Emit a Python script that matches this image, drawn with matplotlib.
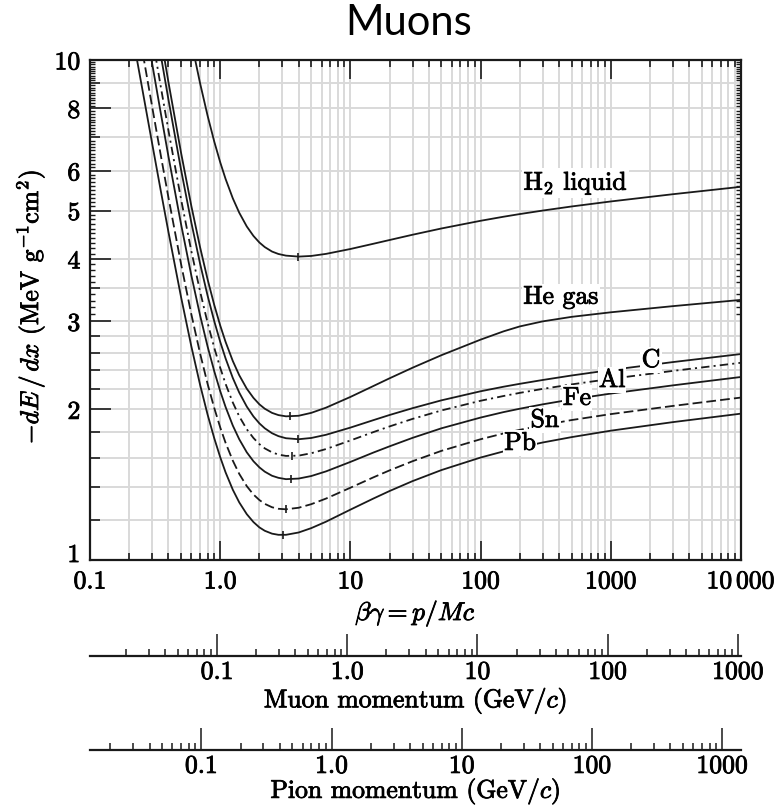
import numpy as np
import matplotlib.pyplot as plt
import matplotlib.patheffects as pe
from matplotlib.text import Text
from matplotlib.ticker import FixedLocator, FixedFormatter, NullFormatter

plt.rcParams['font.family'] = 'cmr10'
plt.rcParams['mathtext.fontset'] = 'cm'
plt.rcParams['axes.unicode_minus'] = False
plt.rcParams['lines.scale_dashes'] = False

nan = np.nan

# beta*gamma sample points and mean stopping power (MeV g^-1 cm^2) per material
beta_gamma = [0.2, 0.25, 0.3, 0.35, 0.4, 0.5, 0.6, 0.7, 0.8, 0.9, 1.0, 1.1, 1.25, 1.4, 1.6, 1.8,
              2.0, 2.2, 2.5, 2.8, 3.2, 4.0, 5.0, 6.5, 10, 15, 20, 30, 50, 100, 150, 200, 300,
              500, 1000, 3000, 10000]

h2_liquid = [nan, nan, nan, nan, nan, 13.96, 10.89, 8.993, 7.739, 6.869, 6.245, 5.782, 5.288, 4.950,
             4.646, 4.448, 4.315, 4.225, 4.139, 4.093, 4.062, 4.044, 4.056, 4.095, 4.188, 4.290,
             4.365, 4.472, 4.603, 4.769, 4.859, 4.919, 4.999, 5.094, 5.213, 5.390, 5.577]
he_gas = [nan, nan, 14.14, 11.09, 9.043, 6.531, 5.108, 4.226, 3.642, 3.237, 2.945, 2.730, 2.500, 2.342,
          2.201, 2.110, 2.048, 2.007, 1.969, 1.949, 1.938, 1.943, 1.969, 2.017, 2.119, 2.228,
          2.309, 2.424, 2.568, 2.759, 2.866, 2.932, 3.001, 3.064, 3.129, 3.219, 3.313]
carbon = [nan, nan, 12.98, 10.21, 8.347, 6.039, 4.732, 3.918, 3.379, 3.004, 2.732, 2.530, 2.312, 2.162,
          2.027, 1.937, 1.876, 1.834, 1.793, 1.769, 1.752, 1.744, 1.754, 1.780, 1.840, 1.904,
          1.950, 2.012, 2.086, 2.175, 2.221, 2.251, 2.291, 2.339, 2.399, 2.488, 2.582]
aluminum = [nan, 14.81, 11.16, 8.828, 7.240, 5.272, 4.149, 3.448, 2.982, 2.658, 2.424, 2.250, 2.065, 1.938,
            1.826, 1.754, 1.705, 1.672, 1.642, 1.625, 1.615, 1.617, 1.635, 1.667, 1.734, 1.802,
            1.850, 1.915, 1.991, 2.082, 2.128, 2.159, 2.199, 2.245, 2.303, 2.389, 2.480]
iron = [nan, 12.99, 9.845, 7.818, 6.422, 4.700, 3.709, 3.088, 2.674, 2.386, 2.177, 2.023, 1.857, 1.744,
        1.642, 1.576, 1.532, 1.502, 1.474, 1.460, 1.451, 1.455, 1.472, 1.504, 1.571, 1.640,
        1.688, 1.755, 1.834, 1.927, 1.976, 2.007, 2.048, 2.095, 2.152, 2.235, 2.323]
tin = [14.75, 10.58, 8.070, 6.439, 5.315, 3.913, 3.102, 2.592, 2.251, 2.014, 1.842, 1.715, 1.580, 1.487,
       1.405, 1.352, 1.318, 1.295, 1.275, 1.266, 1.263, 1.272, 1.293, 1.327, 1.395, 1.463,
       1.511, 1.576, 1.653, 1.744, 1.791, 1.821, 1.860, 1.905, 1.958, 2.033, 2.113]
lead = [12.20, 8.859, 6.813, 5.468, 4.536, 3.360, 2.676, 2.243, 1.954, 1.752, 1.606, 1.497, 1.382, 1.304,
        1.235, 1.191, 1.162, 1.144, 1.129, 1.123, 1.123, 1.135, 1.158, 1.193, 1.261, 1.327,
        1.374, 1.438, 1.513, 1.603, 1.649, 1.679, 1.718, 1.761, 1.814, 1.887, 1.962]

names = ['H$_2$ liquid', 'He gas', 'C', 'Al', 'Fe', 'Sn', 'Pb']
series = [h2_liquid, he_gas, carbon, aluminum, iron, tin, lead]
styles = ['-', '-', '-', (0, (6, 3, 1.5, 3)), '-', (0, (7, 3)), '-']

# minimum ionization points
min_bg = [3.98, 3.44, 3.98, 3.54, 3.47, 3.18, 3.02]
min_val = [4.034, 1.937, 1.745, 1.615, 1.451, 1.263, 1.122]

# label anchor points
label_bg = [538, 413, 2037, 1022, 550, 312, 201]
label_val = [5.68, 3.36, 2.51, 2.29, 2.109, 1.905, 1.714]

x_major = [0.1, 1, 10, 100, 1000, 10000]
x_major_labels = ['0.1', '1.0', '10', '100', '1000', r'$10\,000$']
y_major = [1, 2, 3, 4, 5, 6, 8, 10]
y_major_labels = ['', '2', '3', '4', '5', '6', '8', '10']
y_minor = [1.2, 1.4, 1.6, 1.8, 2.2, 2.4, 2.6, 2.8, 3.5, 7, 9]
y_tiny = [3.1, 3.2, 3.3, 3.4, 3.6, 3.7, 3.8, 3.9, 4.1, 4.2, 4.3, 4.4, 4.5, 4.6, 4.7, 4.8, 4.9,
          5.1, 5.2, 5.3, 5.4, 5.5, 5.6, 5.7, 5.8, 5.9, 6.1, 6.2, 6.3, 6.4, 6.5, 6.6, 6.7, 6.8, 6.9,
          7.1, 7.2, 7.3, 7.4, 7.5, 7.6, 7.7, 7.8, 7.9, 8.1, 8.2, 8.3, 8.4, 8.5, 8.6, 8.7, 8.8, 8.9,
          9.1, 9.2, 9.3, 9.4, 9.5, 9.6, 9.7, 9.8, 9.9]

momentum_ticks = [0.1, 1, 10, 100, 1000]
momentum_labels = ['0.1', '1.0', '10', '100', '1000']
muon_mass = 0.10566
pion_mass = 0.13957

FS = 18.5
W, H = 774, 808
left, width = 90 / W, 651 / W


def decade_minors(lo, hi):
    ticks = []
    for e in range(int(np.floor(np.log10(lo))), int(np.ceil(np.log10(hi))) + 1):
        for m in range(2, 10):
            t = m * 10.0 ** e
            if lo < t < hi:
                ticks.append(t)
    return ticks


fig = plt.figure(figsize=(W / 100, H / 100), dpi=100)
ax = fig.add_axes([left, 248 / H, width, 500 / H])
ax.set_xscale('log')
ax.set_yscale('log')

for vals, ls in zip(series, styles):
    ax.plot(beta_gamma, vals, color='#1a1a1a', lw=1.3, ls=ls, zorder=3)
ax.plot(min_bg, min_val, ls='none', marker='|', ms=6, mew=1.2, color='#1a1a1a', zorder=4)

for name, bx, by in zip(names, label_bg, label_val):
    ax.text(bx, by, name, fontsize=FS, ha='center', va='center', zorder=5,
            bbox=dict(facecolor='white', edgecolor='none', pad=1))

ax.set_xlim(0.1, 10000)
ax.set_ylim(1, 10)
ax.xaxis.set_major_locator(FixedLocator(x_major))
ax.xaxis.set_major_formatter(FixedFormatter(x_major_labels))
ax.xaxis.set_minor_locator(FixedLocator(decade_minors(0.1, 10000)))
ax.xaxis.set_minor_formatter(NullFormatter())
ax.yaxis.set_major_locator(FixedLocator(y_major))
ax.yaxis.set_major_formatter(FixedFormatter(y_major_labels))
ax.yaxis.set_minor_locator(FixedLocator(y_minor))
ax.yaxis.set_minor_formatter(NullFormatter())
# the "1" sits a little above its tick so it clears the 0.1 below it
ax.annotate('1', xy=(0, 1), xycoords=('axes fraction', 'data'), xytext=(-7, 3.5),
            textcoords='offset points', ha='right', va='center', fontsize=FS)

ax.set_axisbelow(True)
ax.grid(which='both', color='#d9d9d9', lw=1.4)
ax.tick_params(which='both', direction='in', top=True, right=True, width=1.2, colors='#1a1a1a',
               labelsize=FS, labelcolor='black')
ax.xaxis.set_tick_params(which='major', length=14, pad=7)
ax.xaxis.set_tick_params(which='minor', length=5)
ax.yaxis.set_tick_params(which='major', length=15, pad=7)
ax.yaxis.set_tick_params(which='minor', length=7)
for sp in ax.spines.values():
    sp.set_linewidth(1.6)
    sp.set_color('#1a1a1a')

# extra short ticks on the y axis
ax_t = ax.twinx()
ax_t.set_yscale('log')
ax_t.set_ylim(1, 10)
ax_t.yaxis.set_major_locator(FixedLocator(y_tiny))
ax_t.yaxis.set_minor_locator(FixedLocator([]))
ax_t.tick_params(which='major', direction='in', left=True, right=True, labelleft=False,
                 labelright=False, length=3.5, width=1.0, colors='#1a1a1a')
for sp in ax_t.spines.values():
    sp.set_visible(False)

ax.set_xlabel(r'$\beta\gamma = p/Mc$', fontsize=FS)
ax.xaxis.set_label_coords(0.5, -0.078)
ax.set_ylabel(r'$-dE\,/\,dx$ (MeV g$^{-1}$cm$^2$)', fontsize=FS)
ax.yaxis.set_label_coords(-0.066, 0.506)


def momentum_axis(y_px, mass, label, labelpad):
    am = fig.add_axes([left, 1 - y_px / H, width, 0.0001])
    am.set_xscale('log')
    lo, hi = 0.1 * mass, 10000 * mass
    am.set_xlim(lo, hi)
    am.patch.set_visible(False)
    for s in ['top', 'left', 'right']:
        am.spines[s].set_visible(False)
    am.spines['bottom'].set_linewidth(1.6)
    am.spines['bottom'].set_color('#1a1a1a')
    am.set_yticks([])
    am.xaxis.set_major_locator(FixedLocator(momentum_ticks))
    am.xaxis.set_major_formatter(FixedFormatter(momentum_labels))
    am.xaxis.set_minor_locator(FixedLocator(decade_minors(lo, hi)))
    am.xaxis.set_minor_formatter(NullFormatter())
    am.tick_params(which='both', direction='in', width=1.1, colors='#1a1a1a',
                   labelsize=FS, labelcolor='black')
    am.xaxis.set_tick_params(which='major', length=16, pad=3)
    am.xaxis.set_tick_params(which='minor', length=5)
    am.set_xlabel(label, fontsize=FS, labelpad=labelpad)
    return am


momentum_axis(656, muon_mass, 'Muon momentum (GeV/$c$)', 1)
momentum_axis(750, pion_mass, 'Pion momentum (GeV/$c$)', -1.5)

# slightly heavier strokes for the serif text
for t in fig.findobj(Text):
    t.set_path_effects([pe.withStroke(linewidth=0.6, foreground='black')])

fig.text(409 / W, 1 - 35 / H, 'Muons', fontfamily='Lato', fontsize=30,
         ha='center', va='baseline')

fig.savefig('out.png', dpi=100)
